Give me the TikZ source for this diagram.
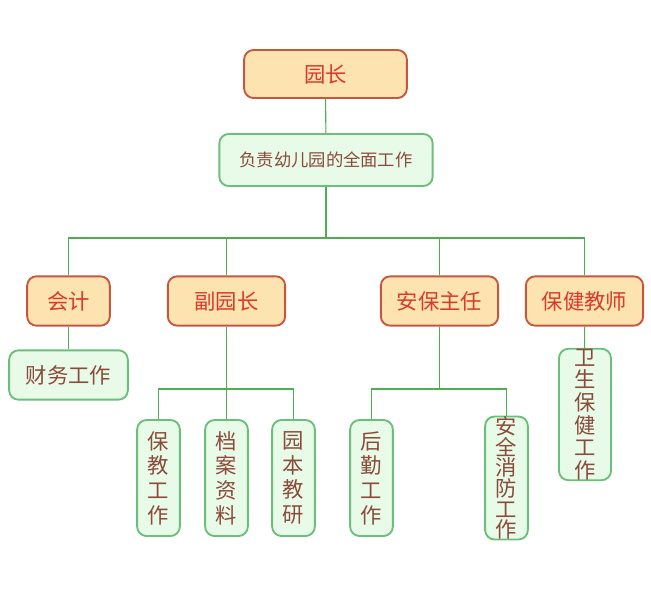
\documentclass[tikz,border=0pt]{standalone}
\usepackage{fontspec}
\newfontfamily\cjk{Noto Sans CJK SC}
\definecolor{ofill}{HTML}{FDE3B0}
\definecolor{oline}{HTML}{C8553D}
\definecolor{otext}{HTML}{D93A2B}
\definecolor{gfill}{HTML}{E8FBE8}
\definecolor{gline}{HTML}{6ABF7A}
\definecolor{gtext}{HTML}{8B4A3A}
\definecolor{wire}{HTML}{4CAF50}
\begin{document}
\begin{tikzpicture}[x=0.75pt,y=-0.75pt,
 box/.style={rounded corners=7pt,line width=1.4pt,inner sep=0pt,font=\cjk,align=center},
 org/.style={box,fill=ofill,draw=oline,text=otext,font=\cjk\fontsize{16}{18}\selectfont},
 grn/.style={box,fill=gfill,draw=gline,text=gtext,font=\cjk\fontsize{16}{18}\selectfont},
 vert/.style={grn,font=\cjk\fontsize{16}{18.5}\selectfont},
 wire/.style={draw=wire,line width=0.8pt}]
\useasboundingbox (0,0) rectangle (651,600);
\node[org,minimum width=122pt,minimum height=36pt] (yz) at (325.5,74) {园长};
\node[grn,minimum width=160pt,minimum height=39pt,font=\cjk\fontsize{13}{15}\selectfont] (fz) at (326,160) {负责幼儿园的全面工作};
\node[org,minimum width=62pt,minimum height=37pt] (kj) at (68.5,301) {会计};
\node[org,minimum width=88pt,minimum height=37pt] (fy) at (226.5,301) {副园长};
\node[org,minimum width=88pt,minimum height=37pt] (ab) at (439.5,301) {安保主任};
\node[org,minimum width=88pt,minimum height=37pt] (bj) at (584.5,301) {保健教师};
\node[grn,minimum width=89pt,minimum height=37pt] (cw) at (68.5,375) {财务工作};
\node[vert,minimum width=32pt,minimum height=87pt] (b1) at (158.5,478) {保\\教\\工\\作};
\node[vert,minimum width=32pt,minimum height=87pt] (b2) at (226.5,478) {档\\案\\资\\料};
\node[vert,minimum width=32pt,minimum height=87pt] (b3) at (293.5,478) {园\\本\\教\\研};
\node[vert,minimum width=32pt,minimum height=87pt] (b4) at (371.5,478) {后\\勤\\工\\作};
\node[vert,minimum width=32pt,minimum height=87pt,font=\cjk\fontsize{16}{15.5}\selectfont] (b5) at (506.5,478) {安\\全\\消\\防\\工\\作};
\node[vert,minimum width=39pt,minimum height=98pt,font=\cjk\fontsize{16}{17}\selectfont] (b6) at (585,414.5) {卫\\生\\保\\健\\工\\作};
\path[wire] (yz) -- (fz);
\path[wire] (fz.south) -- (326,238);
\path[wire] (kj.north) |- (326,238) -| (bj.north);
\path[wire] (fy.north) -- (226.5,238);
\path[wire] (ab.north) -- (439.5,238);
\path[wire] (kj) -- (cw);
\path[wire] (bj) -- (b6);
\path[wire] (fy.south) -- (226.5,389);
\path[wire] (b1.north) |- (226.5,389) -| (b3.north);
\path[wire] (b2) -- (226.5,389);
\path[wire] (ab.south) -- (439.5,389);
\path[wire] (b4.north) |- (439.5,389) -| (b5.north);
\end{tikzpicture}
\end{document}
